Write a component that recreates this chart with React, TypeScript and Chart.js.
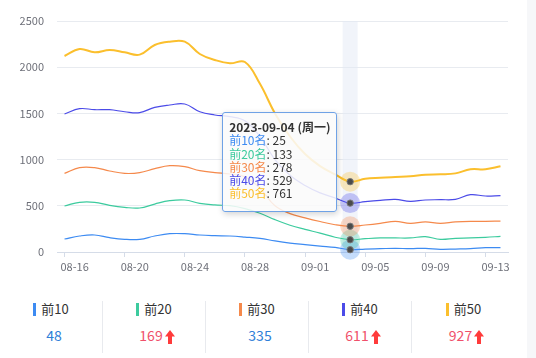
import React, { useEffect, useRef } from 'react';
import { Chart, registerables } from 'chart.js';

Chart.register(...registerables);

const FONT = '"Noto Sans CJK SC", "Noto Sans", sans-serif';

// ---------- data ----------
const categories = [
  '2023-08-16', '2023-08-17', '2023-08-18', '2023-08-19', '2023-08-20', '2023-08-21', '2023-08-22', '2023-08-23', '2023-08-24', '2023-08-25',
  '2023-08-26', '2023-08-27', '2023-08-28', '2023-08-29', '2023-08-30', '2023-08-31', '2023-09-01', '2023-09-02', '2023-09-03', '2023-09-04',
  '2023-09-05', '2023-09-06', '2023-09-07', '2023-09-08', '2023-09-09', '2023-09-10', '2023-09-11', '2023-09-12', '2023-09-13', '2023-09-14',
];

const seriesNames = ['前10', '前20', '前30', '前40', '前50'];

const top10 = [141, 173, 184, 155, 137, 137, 173, 198, 198, 184, 177, 173, 162, 148, 120, 97, 80, 64, 50, 25, 32, 36, 40, 36, 40, 29, 32, 36, 47, 48];
const top20 = [498, 538, 538, 505, 483, 476, 519, 555, 563, 527, 509, 501, 470, 420, 350, 290, 245, 205, 160, 133, 144, 152, 152, 152, 166, 137, 148, 152, 159, 169];
const top30 = [851, 913, 913, 877, 851, 859, 902, 934, 923, 880, 859, 844, 815, 690, 500, 415, 370, 330, 295, 278, 292, 310, 332, 310, 325, 310, 325, 332, 332, 335];
const top40 = [1494, 1551, 1540, 1540, 1518, 1508, 1566, 1591, 1602, 1518, 1483, 1465, 1420, 1250, 1000, 830, 720, 640, 585, 529, 545, 559, 570, 548, 563, 566, 570, 620, 606, 611];
const top50 = [2121, 2197, 2161, 2186, 2161, 2136, 2240, 2276, 2276, 2143, 2078, 2042, 2056, 1820, 1500, 1250, 1060, 930, 840, 761, 793, 804, 812, 819, 837, 841, 851, 895, 895, 927];

const seriesValues = [top10, top20, top30, top40, top50];
const seriesColors = ['#3D8BF2', '#3CCB9E', '#F5894B', '#4B4BE8', '#FBBF2D'];
const seriesWidths = [1.2, 1.2, 1.2, 1.2, 2];
const summaryUp = [false, true, false, true, true];
const weekdays = ['周日', '周一', '周二', '周三', '周四', '周五', '周六'];

const yMin = 0;
const yMax = 2500;
const yStep = 500;
const labelEvery = 4;
const activeIndex = 19;

function hexA(hex: string, a: number) {
  const n = parseInt(hex.slice(1), 16);
  return `rgba(${(n >> 16) & 255},${(n >> 8) & 255},${n & 255},${a})`;
}

const hoverPlugin = {
  id: 'hoverDecor',
  beforeDatasetsDraw(chart: any) {
    const active = chart.getActiveElements();
    if (!active.length) return;
    const xs = chart.scales.x;
    const px = xs.getPixelForValue(active[0].index);
    const bw = Math.abs(xs.getPixelForValue(1) - xs.getPixelForValue(0));
    const { top, bottom } = chart.chartArea;
    const ctx = chart.ctx;
    ctx.save();
    ctx.fillStyle = 'rgba(226,232,244,0.48)';
    ctx.fillRect(px - bw / 2, top, bw, bottom - top);
    ctx.restore();
  },
  afterDatasetsDraw(chart: any) {
    const active = chart.getActiveElements();
    const ctx = chart.ctx;
    ctx.save();
    active.forEach((a: any) => {
      const el = chart.getDatasetMeta(a.datasetIndex).data[a.index];
      const color = chart.data.datasets[a.datasetIndex].borderColor;
      ctx.beginPath();
      ctx.arc(el.x, el.y, 10, 0, Math.PI * 2);
      ctx.fillStyle = hexA(color, 0.3);
      ctx.fill();
    });
    active.forEach((a: any) => {
      const el = chart.getDatasetMeta(a.datasetIndex).data[a.index];
      ctx.beginPath();
      ctx.arc(el.x, el.y, 3.2, 0, Math.PI * 2);
      ctx.fillStyle = '#4a4a4a';
      ctx.fill();
      ctx.lineWidth = 1;
      ctx.strokeStyle = '#7a7a7a';
      ctx.stroke();
    });
    ctx.restore();
  },
};

function externalTooltip({ chart, tooltip }: any) {
  const parent = chart.canvas.parentNode as HTMLElement;
  let el = parent.querySelector('.ext-tooltip') as HTMLDivElement | null;
  if (!el) {
    el = document.createElement('div');
    el.className = 'ext-tooltip';
    Object.assign(el.style, {
      position: 'absolute',
      pointerEvents: 'none',
      background: 'rgba(250,250,250,0.86)',
      border: '1px solid #6FA2E6',
      borderRadius: '3px',
      boxShadow: '1px 2px 6px rgba(0,0,0,0.18)',
      padding: '7px 6px 11px 6px',
      fontFamily: FONT,
      fontSize: '12px',
      lineHeight: '13.3px',
      color: '#333',
      whiteSpace: 'nowrap',
    });
    parent.appendChild(el);
  }
  const points = tooltip.dataPoints || [];
  if (!points.length) {
    el.style.display = 'none';
    return;
  }
  const idx = points[0].dataIndex;
  const date = categories[idx];
  const wd = weekdays[new Date(date + 'T00:00:00').getDay()];
  let html = `<div style="font-weight:bold">${date} (${wd})</div>`;
  points.forEach((p: any) => {
    const c = p.dataset.borderColor;
    html += `<div><span style="color:${c}">${p.dataset.label}名</span>: ${p.raw}</div>`;
  });
  el.innerHTML = html;
  el.style.display = 'block';
  const w = el.offsetWidth;
  el.style.left = `${tooltip.caretX - 13 - w}px`;
  el.style.top = `112px`;
}

function ArrowUp() {
  return (
    <svg width="10" height="14" viewBox="0 0 10 14" style={{ marginLeft: 2, marginBottom: -3 }}>
      <path d="M5 0 L10 6.5 L7 6.5 L7 14 L3 14 L3 6.5 L0 6.5 Z" fill="#FF3B3B" />
    </svg>
  );
}

function Summary() {
  return (
    <div
      style={{
        position: 'absolute',
        left: 0,
        top: 301,
        width: 515,
        height: 52,
        display: 'flex',
        fontFamily: FONT,
      }}
    >
      {seriesNames.map((name, i) => {
        const arr = seriesValues[i];
        const last = arr[arr.length - 1];
        const up = summaryUp[i];
        return (
          <div
            key={name}
            style={{
              position: 'relative',
              width: 103,
              height: 52,
              boxSizing: 'border-box',
              borderRight: i < seriesNames.length - 1 ? '1px solid #E8EAEE' : 'none',
            }}
          >
            <div
              style={{
                position: 'absolute',
                top: 0,
                left: 0,
                right: 0,
                height: 16,
                display: 'flex',
                alignItems: 'center',
                justifyContent: 'center',
              }}
            >
              <span style={{ display: 'inline-block', width: 3, height: 13, background: seriesColors[i], marginRight: 5 }} />
              <span style={{ fontSize: 13, color: '#333', lineHeight: '16px' }}>{name}</span>
            </div>
            <div
              style={{
                position: 'absolute',
                top: 25,
                left: 0,
                right: 0,
                height: 18,
                display: 'flex',
                alignItems: 'center',
                justifyContent: 'center',
                paddingLeft: 6,
              }}
            >
              <span style={{ fontSize: 14, lineHeight: '18px', color: up ? '#F0506A' : '#2F80D8' }}>{last}</span>
              {up ? <ArrowUp /> : null}
            </div>
          </div>
        );
      })}
    </div>
  );
}

export default function App() {
  const canvasRef = useRef<HTMLCanvasElement | null>(null);

  useEffect(() => {
    document.body.style.margin = '0';
    const canvas = canvasRef.current;
    if (!canvas) return;
    const chart = new Chart(canvas, {
      type: 'line',
      data: {
        labels: categories,
        datasets: seriesNames.map((name, i) => ({
          label: name,
          data: seriesValues[i],
          borderColor: seriesColors[i],
          backgroundColor: seriesColors[i],
          borderWidth: seriesWidths[i],
          tension: 0.4,
          pointRadius: 0,
          pointHoverRadius: 0,
          fill: false,
        })),
      },
      options: {
        responsive: false,
        devicePixelRatio: 1,
        animation: false,
        events: [],
        layout: { padding: { left: 0, right: 12, top: 21, bottom: 0 } },
        interaction: { mode: 'index', intersect: false },
        plugins: {
          legend: { display: false },
          tooltip: { enabled: false, mode: 'index', intersect: false, external: externalTooltip },
        },
        scales: {
          x: {
            type: 'category',
            offset: true,
            grid: { display: true, drawOnChartArea: false, drawTicks: true, tickLength: 5, color: '#D5DCE8', offset: false },
            border: { display: true, color: '#D5DCE8' },
            ticks: {
              autoSkip: false,
              maxRotation: 0,
              minRotation: 0,
              align: 'start',
              labelOffset: -4,
              padding: 3,
              color: '#6E7079',
              font: { size: 11, family: FONT },
              callback: (_v: any, i: number) => (i % labelEvery === 0 ? categories[i].slice(5) : null),
            },
            afterFit: (s: any) => {
              s.height = 38;
            },
          },
          y: {
            min: yMin,
            max: yMax,
            ticks: {
              stepSize: yStep,
              padding: 13,
              color: '#6E7079',
              font: { size: 11, family: FONT },
              callback: (v: any) => String(v),
            },
            grid: { color: '#E8EBF0', drawTicks: false },
            border: { display: false },
            afterFit: (s: any) => {
              s.width = 57;
            },
          },
        },
      } as any,
      plugins: [hoverPlugin],
    });

    const active = seriesNames.map((_, di) => ({ datasetIndex: di, index: activeIndex }));
    chart.setActiveElements(active);
    const el: any = chart.getDatasetMeta(0).data[activeIndex];
    chart.tooltip?.setActiveElements(active, { x: el.x, y: el.y });
    chart.render();

    return () => {
      chart.destroy();
      const parent = canvas.parentNode as HTMLElement | null;
      const tip = parent?.querySelector('.ext-tooltip');
      if (tip) tip.remove();
    };
  }, []);

  return (
    <div style={{ position: 'relative', width: 536, height: 358, background: '#fff', overflow: 'hidden' }}>
      <div style={{ position: 'absolute', left: 0, top: 0, width: 520, height: 290 }}>
        <canvas ref={canvasRef} width={520} height={290} style={{ display: 'block', width: 520, height: 290 }} />
      </div>
      <Summary />
      <div style={{ position: 'absolute', left: 527, top: 0, width: 9, height: 358, background: '#F6F7F9' }} />
    </div>
  );
}
